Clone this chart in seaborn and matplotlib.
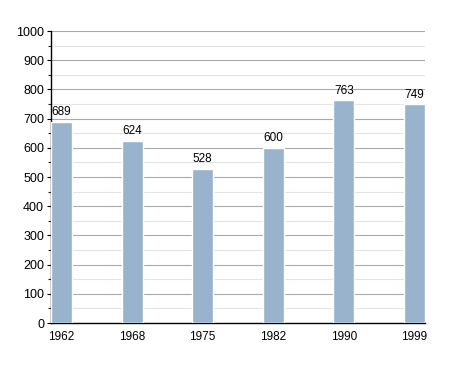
import matplotlib
matplotlib.use("Agg")
import matplotlib.pyplot as plt
import seaborn as sns
import pandas as pd
from matplotlib.ticker import MultipleLocator

years = ["1962", "1968", "1975", "1982", "1990", "1999"]
population = [689, 624, 528, 600, 763, 749]

sns.set_style("white")
plt.rcParams['font.family'] = ['Liberation Sans', 'DejaVu Sans']

df = pd.DataFrame({"year": years, "pop": population})

fig = plt.figure(figsize=(4.55, 3.73), dpi=100)
ax = fig.add_axes([51/455, 1-323/373, (425-51)/455, (323-31)/373])

sns.barplot(data=df, x="year", y="pop", color="#9ab3cc", saturation=1, width=0.3, ax=ax, zorder=3)

ax.set_xlim(-0.15, 5.15)
ax.set_ylim(0, 1000)
ax.yaxis.set_major_locator(MultipleLocator(100))
ax.yaxis.set_minor_locator(MultipleLocator(50))
ax.grid(which="major", axis="y", color="#aaaaaa", linewidth=0.8, zorder=0)
ax.grid(which="minor", axis="y", color="#e4e4e4", linewidth=0.8, zorder=0)
ax.set_axisbelow(True)

for s in ["top", "right"]:
    ax.spines[s].set_visible(False)
for s in ["left", "bottom"]:
    ax.spines[s].set_color("black")
    ax.spines[s].set_linewidth(1.0)

ax.tick_params(axis="y", which="major", left=True, length=3, width=0.8, labelsize=9, pad=2, colors="black")
ax.tick_params(axis="y", which="minor", left=True, length=2.5, width=0.8)
ax.tick_params(axis="x", bottom=False, labelsize=8.5, pad=2, colors="black")
ax.set_xlabel("")
ax.set_ylabel("")

for i, v in enumerate(population):
    ax.text(i, v + 12, str(v), ha="center", va="bottom", fontsize=8.5, color="black")

fig.savefig("out.png", dpi=100)
